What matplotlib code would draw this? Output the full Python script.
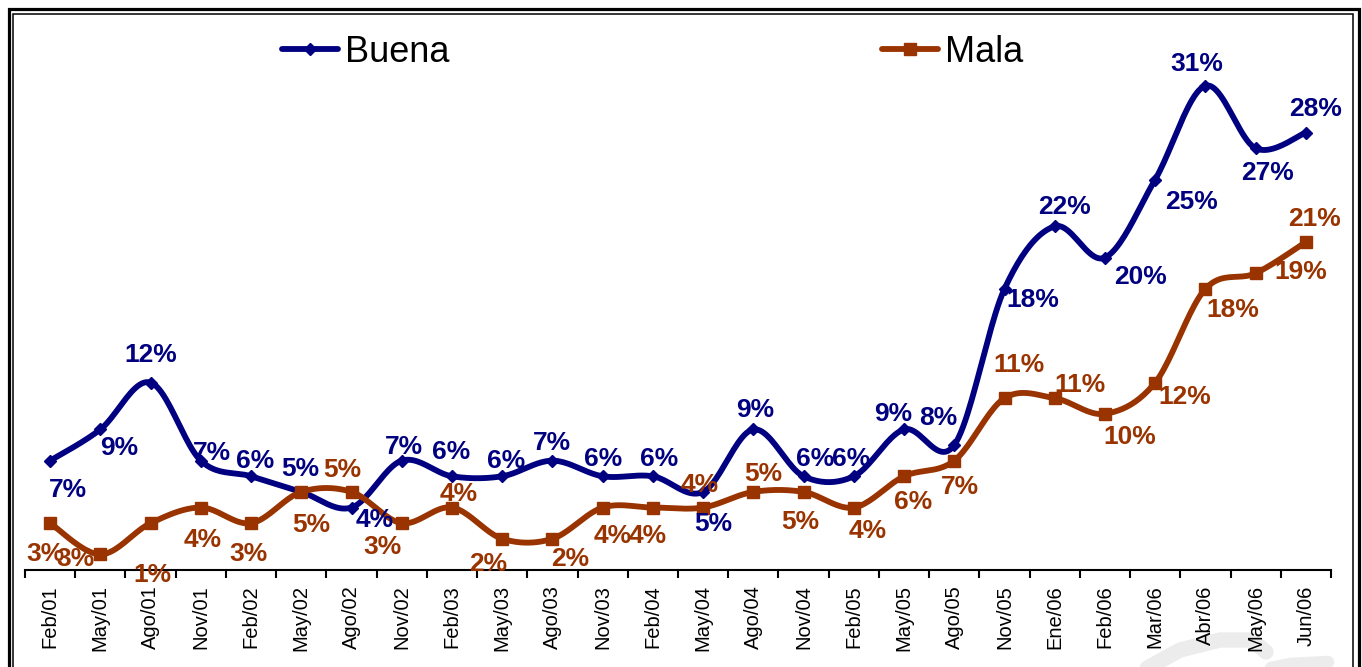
import numpy as np
import matplotlib.pyplot as plt
from matplotlib.lines import Line2D
from matplotlib.patches import Rectangle

plt.rcParams['font.family'] = ['Liberation Sans', 'DejaVu Sans']

periods = ["Feb/01", "May/01", "Ago/01", "Nov/01", "Feb/02", "May/02", "Ago/02",
           "Nov/02", "Feb/03", "May/03", "Ago/03", "Nov/03", "Feb/04", "May/04",
           "Ago/04", "Nov/04", "Feb/05", "May/05", "Ago/05", "Nov/05", "Ene/06",
           "Feb/06", "Mar/06", "Abr/06", "May/06", "Jun/06"]
buena = [7, 9, 12, 7, 6, 5, 4, 7, 6, 6, 7, 6, 6, 5, 9, 6, 6, 9, 8, 18, 22, 20, 25, 31, 27, 28]
mala = [3, 1, 3, 4, 3, 5, 5, 3, 4, 2, 2, 4, 4, 4, 5, 5, 4, 6, 7, 11, 11, 10, 12, 18, 19, 21]

buena_labels = [f"{v}%" for v in buena]
mala_labels = ["3%", "3%", "1%", "4%", "3%", "5%", "5%", "3%", "4%", "2%", "2%", "4%", "4%",
               "4%", "5%", "5%", "4%", "6%", "7%", "11%", "11%", "10%", "12%", "18%", "19%", "21%"]

# label offsets from the point, in pixels (x right, y down), label centre
buena_off = [(18, 27), (19, 17), (0, -30), (11, -10), (4, -17), (-1, -25), (23, 10),
             (2, -16), (-1, -26), (4, -17), (0, -20), (0, -19), (6, -19), (10, 30),
             (2, -21), (12, -19), (-3, -19), (-11, -17), (-16, -29), (28, 9), (10, -21),
             (36, 17), (36, 20), (-9, -24), (12, 23), (10, -26)]
mala_off = [(-5, 29), (-25, 3), (2, 50), (2, 30), (-3, 29), (10, 31), (-9, -24),
            (-19, 22), (7, -16), (-14, 23), (18, 18), (10, 26), (-5, 26), (-3, -25),
            (10, -20), (-3, 28), (14, 21), (9, 24), (6, 24), (14, -35), (25, -15),
            (25, 21), (30, 12), (27, 19), (45, -3), (9, -25)]

BLUE = '#000080'
BROWN = '#993300'


def smooth(vals, n=24):
    # Excel-like smoothed line (cubic Bezier through each point)
    pts = np.column_stack([np.arange(len(vals)), vals]).astype(float)
    padded = np.vstack([pts[0], pts, pts[-1]])
    t = np.linspace(0, 1, n)[:, None]
    out = []
    for i in range(len(pts) - 1):
        p0, p1, p2, p3 = padded[i], padded[i + 1], padded[i + 2], padded[i + 3]
        b1 = p1 + (p2 - p0) / 6
        b2 = p2 - (p3 - p1) / 6
        seg = (1 - t) ** 3 * p1 + 3 * (1 - t) ** 2 * t * b1 + 3 * (1 - t) * t ** 2 * b2 + t ** 3 * p2
        out.append(seg if i == 0 else seg[1:])
    return np.vstack(out)


W, H = 1362, 667
fig = plt.figure(figsize=(W / 100, H / 100), dpi=100)
ax = fig.add_axes([25 / W, 1 - 570 / H, 1306 / W, 550 / H])

x = np.arange(len(periods))
for vals, color, marker, ms in [(buena, BLUE, 'D', 6), (mala, BROWN, 's', 9)]:
    curve = smooth(vals)
    ax.plot(curve[:, 0], curve[:, 1], color=color, lw=4.2, solid_capstyle='round', clip_on=False, zorder=3)
    ax.plot(x, vals, ls='none', marker=marker, ms=ms, color=color, clip_on=False, zorder=4)

for vals, labels, offs, color in [(buena, buena_labels, buena_off, BLUE),
                                  (mala, mala_labels, mala_off, BROWN)]:
    for i, (v, lab, (dx, dy)) in enumerate(zip(vals, labels, offs)):
        ax.annotate(lab, (i, v), xytext=(dx, -dy - 9), textcoords='offset pixels',
                    ha='center', va='baseline', fontsize=19, fontweight='bold',
                    color=color, zorder=5)

ax.set_xlim(-0.5, len(periods) - 0.5)
ax.set_ylim(0, 550 / 15.62)
ax.set_yticks([])
ax.set_xticks(x)
ax.set_xticklabels(periods, rotation=90, fontsize=14.5)
ax.set_xticks(np.arange(-0.5, len(periods), 1), minor=True)
ax.tick_params(axis='x', which='major', length=0, pad=11)
ax.tick_params(axis='x', which='minor', length=6, width=1.5, direction='out', color='black')
for s in ['left', 'top', 'right']:
    ax.spines[s].set_visible(False)
ax.spines['bottom'].set_linewidth(1.5)
ax.set_facecolor('none')

# legend, two entries spread across the top
for label, color, marker, ms, px in [("Buena", BLUE, 'D', 6, 282), ("Mala", BROWN, 's', 9, 882)]:
    h = Line2D([], [], color=color, lw=4.2, marker=marker, ms=ms, solid_capstyle='round')
    leg = fig.legend([h], [label], loc='center left', bbox_to_anchor=(px / W, 1 - 52 / H),
                     frameon=False, fontsize=26, handlelength=1.55, handletextpad=0.2,
                     borderpad=0, borderaxespad=0)

# double border around the chart
fig.add_artist(Rectangle((8.5 / W, -0.1), (1359 - 8.5) / W, 1.1 - 8.5 / H, transform=fig.transFigure,
                         fill=False, lw=2.3, edgecolor='black'))
fig.add_artist(Rectangle((12.5 / W, -0.1), (1353 - 12.5) / W, 1.1 - 14 / H, transform=fig.transFigure,
                         fill=False, lw=1.1, edgecolor='black'))

# faint watermark swoosh at the bottom right
wx = np.array([1140, 1180, 1220, 1252, 1266])
wy = np.array([672, 650, 640, 640, 652])
fig.add_artist(Line2D(wx / W, 1 - wy / H, transform=fig.transFigure, color='#ececec',
                      lw=11, solid_capstyle='round', zorder=-1))
wx2 = np.array([1252, 1290, 1328])
wy2 = np.array([672, 664, 662])
fig.add_artist(Line2D(wx2 / W, 1 - wy2 / H, transform=fig.transFigure, color='#ececec',
                      lw=9, solid_capstyle='round', zorder=-1))

fig.savefig('out.png', dpi=100)
